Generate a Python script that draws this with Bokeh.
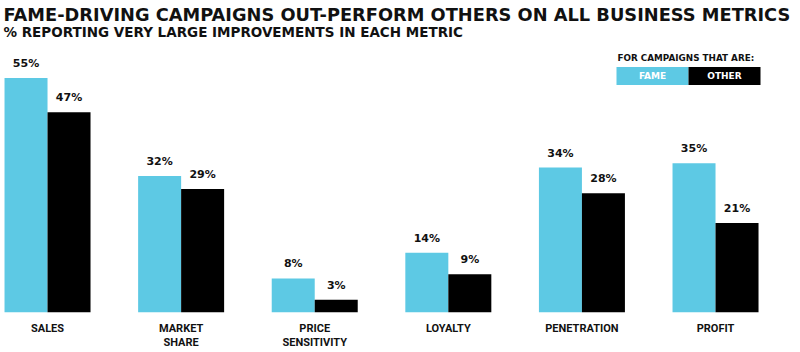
from bokeh.plotting import figure
from bokeh.models import Range1d, FixedTicker, ColumnDataSource, Label, BoxAnnotation
from bokeh.core.properties import value
from bokeh.transform import dodge
from bokeh.embed import file_html
from bokeh.resources import INLINE

categories = ["SALES", "MARKET\nSHARE", "PRICE\nSENSITIVITY", "LOYALTY", "PENETRATION", "PROFIT"]
fame = [55, 32, 8, 14, 34, 35]
other = [47, 29, 3, 9, 28, 21]
series_names = ["FAME", "OTHER"]

FAME_C = "#5DC9E4"
OTHER_C = "#000000"

W, H = 800, 352
FRAME_H = 314
UX = 133.6
X0 = -0.352
UY = 4.29

def xd(px):
    return X0 + px / UX

def yd(py):
    return (FRAME_H - py) / UY

p = figure(width=W, height=H, output_backend="svg", toolbar_location=None,
           x_range=Range1d(X0, X0 + W / UX), y_range=Range1d(0, FRAME_H / UY),
           min_border_left=0, min_border_right=0, min_border_top=0, min_border_bottom=38,
           y_axis_location=None, tools="")
p.outline_line_color = None
p.xgrid.visible = False
p.ygrid.visible = False
p.background_fill_color = "white"
p.border_fill_color = "white"

idx = list(range(len(categories)))
bw = 43 / UX
src = ColumnDataSource(dict(
    x=idx, fame=fame, other=other,
    fame_lbl=[f"{v}%" for v in fame], other_lbl=[f"{v}%" for v in other],
))
p.vbar(x=dodge("x", -bw / 2, range=p.x_range), top="fame", width=bw, bottom=0,
       source=src, fill_color=FAME_C, line_color=None)
p.vbar(x=dodge("x", bw / 2, range=p.x_range), top="other", width=bw, bottom=0,
       source=src, fill_color=OTHER_C, line_color=None)

lbl_kw = dict(text_font=value("DejaVu Sans"), text_font_style="bold", text_font_size="11px",
              text_align="center", text_baseline="bottom", text_color="#111111", y_offset=-8)
p.text(x=dodge("x", -bw / 2, range=p.x_range), y="fame", text="fame_lbl", source=src, **lbl_kw)
p.text(x=dodge("x", bw / 2, range=p.x_range), y="other", text="other_lbl", source=src, **lbl_kw)

ax = p.xaxis[0]
ax.ticker = FixedTicker(ticks=idx)
ax.major_label_overrides = {i: c for i, c in enumerate(categories)}
ax.axis_line_color = None
ax.major_tick_line_color = None
ax.minor_tick_line_color = None
ax.major_tick_out = 0
ax.major_tick_in = 0
ax.major_label_text_font = "Roboto"
ax.major_label_text_font_style = "bold"
ax.major_label_text_font_size = "11px"
ax.major_label_text_color = "#111111"
ax.major_label_standoff = 9
ax.major_label_text_line_height = 1.15

# Title & subtitle
p.add_layout(Label(x=xd(3), y=yd(14), text="FAME-DRIVING CAMPAIGNS OUT-PERFORM OTHERS ON ALL BUSINESS METRICS",
                   text_font="DejaVu Sans", text_font_style="bold", text_font_size="17.8px",
                   text_baseline="middle", text_color="#111111"))
p.add_layout(Label(x=xd(3), y=yd(32), text="% REPORTING VERY LARGE IMPROVEMENTS IN EACH METRIC",
                   text_font="DejaVu Sans", text_font_style="bold", text_font_size="13.5px",
                   text_baseline="middle", text_color="#111111"))

# Legend
p.add_layout(Label(x=xd(617), y=yd(58), text="FOR CAMPAIGNS THAT ARE:",
                   text_font="DejaVu Sans", text_font_style="bold", text_font_size="8.8px",
                   text_baseline="middle", text_color="#111111"))
p.add_layout(BoxAnnotation(left=xd(616), right=xd(688), top=yd(67), bottom=yd(85),
                           fill_color=FAME_C, fill_alpha=1, line_color=None))
p.add_layout(BoxAnnotation(left=xd(688), right=xd(760), top=yd(67), bottom=yd(85),
                           fill_color=OTHER_C, fill_alpha=1, line_color=None))
for cx, name in zip([652, 724], series_names):
    p.add_layout(Label(x=xd(cx), y=yd(76), text=name,
                       text_font="DejaVu Sans", text_font_style="bold", text_font_size="9px",
                       text_align="center", text_baseline="middle", text_color="white"))

open("out.html", "w").write(file_html(p, INLINE))
